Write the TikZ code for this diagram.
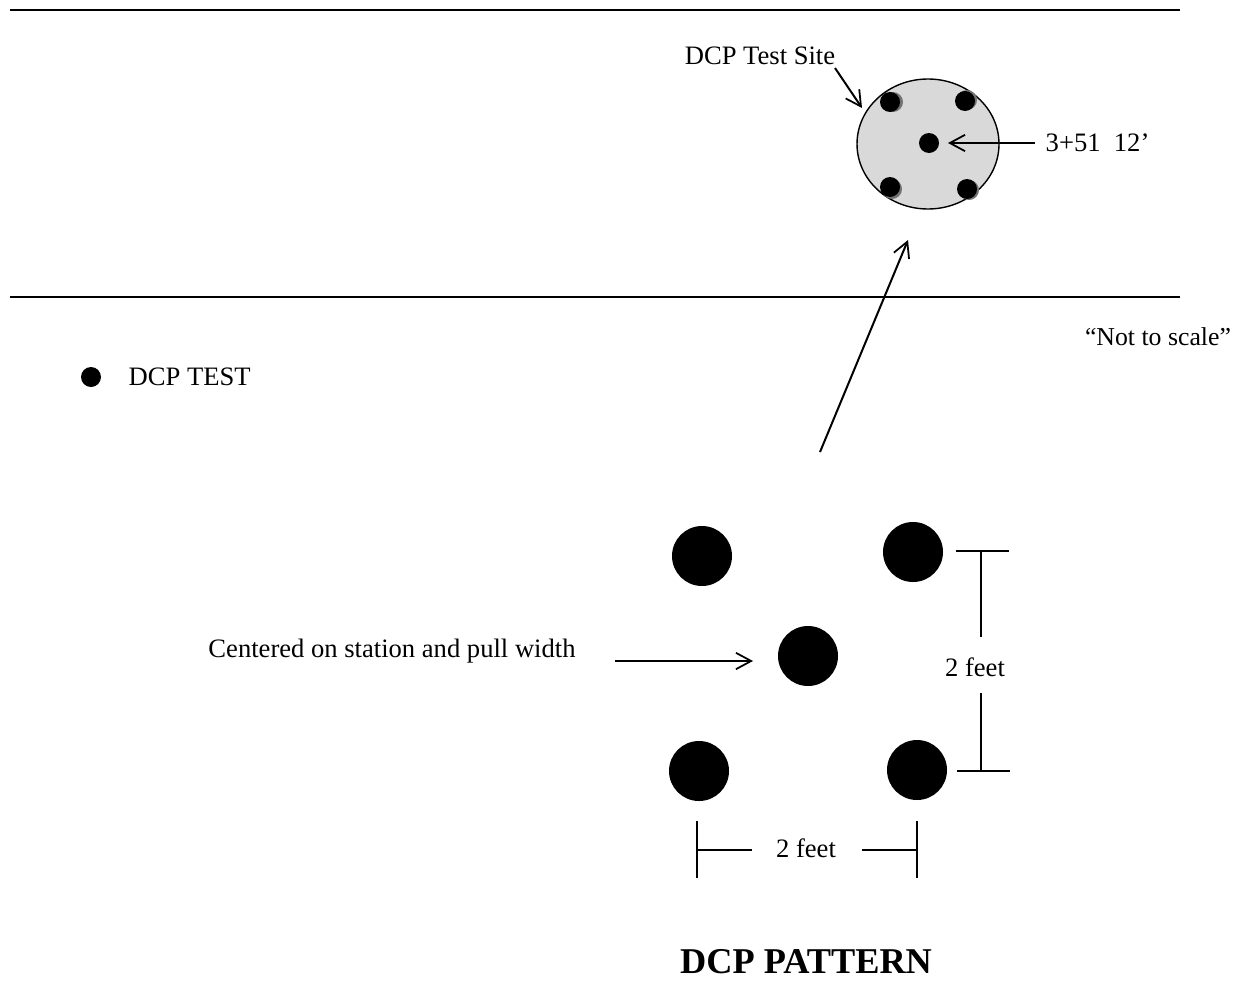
\documentclass[tikz,border=0pt]{standalone}
\usepackage{fontspec}
\setmainfont{Liberation Serif}
\usetikzlibrary{shapes.geometric,arrows.meta}

\begin{document}
\begin{tikzpicture}
[x=0.03cm,y=-0.03cm,line width=1.2pt,%
  every node/.style={inner sep=0pt,font=\fontsize{22.7}{27}\selectfont},%
  dot/.style={shape=circle,fill=black,minimum size=20*0.03cm},%
  bigdot/.style={shape=circle,fill=black,minimum size=60*0.03cm},%
  shade/.style={shape=circle,fill=black!55,minimum size=20*0.03cm},%
  pointer/.style={-{Straight Barb[length=13pt,width=14pt,line width=1.5pt]},line width=1.7pt},%
  dim/.style={line width=1.4pt}]
\useasboundingbox (0,0) rectangle (1244,981);
\draw (10,10) -- (1180,10);
\draw (10,297) -- (1180,297);
\node[ellipse,draw,fill=black!15,minimum width=142*0.03cm,minimum height=130*0.03cm] (site) at (928,144) {};
\node[shade] at (893,102) {};
\node[shade] at (967,100) {};
\node[shade] at (892,189) {};
\node[shade] at (969,190) {};
\node[dot] (s1) at (890,102) {};
\node[dot] (s2) at (965,101) {};
\node[dot] (s0) at (929,143) {};
\node[dot] (s3) at (890,187) {};
\node[dot] (s4) at (967,189) {};
\node (sitelbl) at (760,56) {DCP Test Site};
\node[anchor=west] (stn) at (1045,143) {3+51\ \ 12’};
\coordinate (sitetail) at (835,68);
\coordinate (sitehead) at (862,108);
\draw[pointer] (sitetail) -- (sitehead);
\coordinate (stntail) at (1035,143);
\coordinate (stnhead) at (948,143);
\draw[pointer] (stntail) -- (stnhead);
\node[font=\fontsize{22}{26}\selectfont] (scale) at (1158,337) {“Not to scale”};
\node[dot] (key) at (91,377) {};
\node[anchor=west] (keylbl) at (128,377) {DCP TEST};
\node[bigdot] (tl) at (702,556) {};
\node[bigdot] (tr) at (913,552) {};
\node[bigdot] (c) at (808,656) {};
\node[bigdot] (bl) at (699,771) {};
\node[bigdot] (br) at (917,770) {};
\coordinate (up) at (908,240);
\coordinate (upfrom) at (820,452);
\draw[pointer] (upfrom) -- (up);
\node (centre) at (392,651) {Centered on station and pull width};
\coordinate (ctail) at (615,661);
\coordinate (chead) at (753,661);
\draw[pointer] (ctail) -- (chead);
\node (vlbl) at (975,667) {2 feet};
\coordinate (vt) at (981,551);
\coordinate (vb) at (981,771);
\draw[dim] (956,551) -- (1009,551);
\draw[dim] (957,771) -- (1010,771);
\draw[dim] (vt) -- (981,637);
\draw[dim] (981,693) -- (vb);
\node (hlbl) at (806,848) {2 feet};
\coordinate (hl) at (697,850);
\coordinate (hr) at (917,850);
\draw[dim] (697,821) -- (697,878);
\draw[dim] (917,821) -- (917,878);
\draw[dim] (hl) -- (752,850);
\draw[dim] (862,850) -- (hr);
\node[font=\fontsize{31}{36}\selectfont\bfseries] (title) at (806,962) {DCP PATTERN};
\end{tikzpicture}
\end{document}
